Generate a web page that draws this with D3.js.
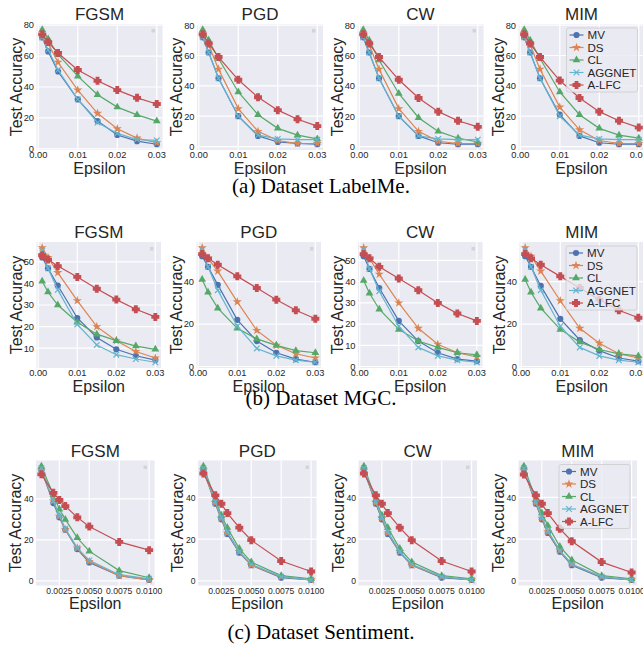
<!DOCTYPE html>
<html>
<head>
<meta charset="utf-8">
<script src="https://cdn.jsdelivr.net/npm/d3@7"></script>
<style>
  body { margin: 0; background: #fff; }
  svg { display: block; }
</style>
</head>
<body>
<svg id="chart" width="643" height="650"></svg>
<script>
// series names, attack names, epsilon values
const methods = ['MV', 'DS', 'CL', 'AGGNET', 'A-LFC'];
const attacks = ['FGSM', 'PGD', 'CW', 'MIM'];
const epsWide = [0.001, 0.0025, 0.005, 0.01, 0.015, 0.02, 0.025, 0.03];
const epsSentiment = [0.001, 0.002, 0.0025, 0.003, 0.004, 0.005, 0.0075, 0.01];

// rows: MV, DS, CL, AGGNET, A-LFC
const labelmeFGSM = [
    [72, 63, 50, 32, 18, 9, 5, 3],
    [73, 68, 56, 38, 23, 13, 7, 4],
    [77, 71, 61, 47, 35, 27, 22, 18],
    [72, 64, 51, 32, 17, 10, 6, 5.5],
    [74, 69, 62, 51, 44, 38, 33, 29]
];
const labelmePGD = [
    [72, 62, 45, 20, 7, 3, 2, 1.5],
    [73, 67, 51, 25, 10, 4, 2, 2],
    [77, 70, 58, 36, 21, 12, 7.5, 5],
    [72, 62, 45, 20, 7.5, 5, 4.5, 4.5],
    [74, 68, 59, 44, 32.5, 24, 18, 13.5]
];
const labelmeCW = [
    [72, 62, 45, 20, 7, 2.5, 1.5, 1.5],
    [73, 67, 51, 25, 10, 3.5, 2, 2],
    [77, 70, 57, 35, 19, 10, 5.5, 3],
    [72, 62, 45, 20, 7, 5, 4.5, 4.5],
    [74, 68, 59, 44, 32, 23, 17, 13]
];
const labelmeMIM = [
    [72, 62, 45, 21, 7, 2.5, 1.5, 1.5],
    [73, 67, 51, 26, 11, 4, 2, 2],
    [77, 70, 58, 36, 21, 12, 7.5, 5.5],
    [72, 62, 45, 20, 7.5, 5, 4.5, 4.5],
    [74, 68, 59, 43.5, 32, 23, 17, 12.5]
];
const mgcFGSM = [
    [52, 47, 39, 24, 15, 9.5, 6.5, 4.5],
    [56.5, 52, 45, 32, 20, 13.5, 8.5, 5.5],
    [41, 36, 30, 22, 16.5, 13.5, 11, 9.5],
    [55, 47, 37, 21, 11.5, 7, 5, 3.5],
    [53, 51, 48, 43, 37.5, 32.5, 28, 24.5]
];
const mgcPGD = [
    [52, 47, 38.5, 22, 12, 6.5, 3.5, 2],
    [56, 51, 45, 30.5, 17, 10, 6, 4],
    [41, 35, 27.5, 18, 13, 10, 7.5, 6.5],
    [55, 47, 36, 19, 8.5, 5, 3, 2],
    [53, 51, 48, 42.5, 37, 31.5, 26.5, 22.5]
];
const mgcCW = [
    [52, 46, 37, 21.5, 12, 6.5, 3.5, 2.5],
    [56, 51, 43.5, 30, 18, 10.5, 6.5, 4.5],
    [40.5, 34.5, 27, 17.5, 12, 9, 6.5, 5.5],
    [55, 46, 35.5, 19, 9, 5, 3, 2],
    [53, 51, 47, 41.5, 36, 30, 25, 21.5]
];
const mgcMIM = [
    [52, 47, 38, 22.5, 12.5, 7.5, 4, 2.5],
    [56, 52, 45, 31, 18, 11, 6, 4],
    [41, 35, 27.5, 17.5, 11.5, 8, 6, 5],
    [55, 47, 36, 19, 9, 5, 3, 2],
    [53, 51, 48, 42.5, 37, 31.5, 26.5, 23]
];
const sentimentFGSM = [
    [54, 38, 31, 25, 15.5, 9, 2.5, 0.5],
    [54, 39, 31.5, 25, 16, 9.5, 2.5, 0.5],
    [56, 42, 35, 30, 21, 14.5, 5, 1.5],
    [55, 39, 32, 25.5, 16, 10, 3, 1],
    [52, 43, 39.5, 36.5, 31, 26.5, 19, 15]
];
const sentimentPGD = [
    [53, 37, 29.5, 22.5, 13.5, 7.5, 1.5, 0.5],
    [53, 37.5, 30, 23, 14, 7.5, 2, 0.5],
    [55, 39, 31.5, 25.5, 15.5, 9, 2.5, 1],
    [54, 38, 30.5, 23.5, 14, 8, 2, 0.5],
    [51.5, 41, 37, 32.5, 25.5, 19.5, 9.5, 4.5]
];
const sentimentCW = [
    [53, 37, 29.5, 22.5, 13.5, 7.5, 1.5, 0.5],
    [53, 37.5, 30, 23, 14, 7.5, 2, 0.5],
    [55, 39, 31.5, 25.5, 15.5, 9, 2.5, 1],
    [54, 38, 30.5, 23.5, 14, 8, 2, 0.5],
    [51.5, 41, 37, 32.5, 25.5, 19.5, 9.5, 4.5]
];
const sentimentMIM = [
    [53, 37, 29.5, 23, 14, 7.5, 1.5, 0.5],
    [53, 37.5, 30, 23.5, 14.5, 8, 2, 0.5],
    [55, 39, 32.5, 26.5, 16.5, 10, 2.5, 1],
    [54, 38, 30.5, 24, 14.5, 8, 2, 0.5],
    [51, 41, 37, 32.5, 25, 19, 9, 4]
];

// tick labels
const xTicksWide = [0, 0.01, 0.02, 0.03];
const xTicksSentiment = [0.0025, 0.005, 0.0075, 0.01];
const yTicksLabelme = [0, 20, 40, 60, 80];
const yTicksMgc = [[10, 20, 30, 40, 50], [0, 20, 40], [0, 10, 20, 30, 40, 50], [0, 20, 40]];
const yTicksSentiment = [0, 20, 40];
const captions = ['(a) Dataset LabelMe.', '(b) Dataset MGC.', '(c) Dataset Sentiment.'];

const colors = ['#4c72b0', '#dd8452', '#55a868', '#64b5cd', '#c44e52'];
const sans = '"Liberation Sans", Arial, sans-serif';
const ink = '#262626';

const rows = [
    { top: 24, bottom: 150, lefts: [36.5, 197, 357.5, 518.5], width: 126,
      eps: epsWide, xTicks: xTicksWide, fmt: d3.format('.2f'), tickSize: 9.3,
      panels: [labelmeFGSM, labelmePGD, labelmeCW, labelmeMIM],
      yTicks: [yTicksLabelme, yTicksLabelme, yTicksLabelme, yTicksLabelme],
      caption: captions[0], capY: 192.5 },
    { top: 242, bottom: 368, lefts: [36.5, 196.5, 358, 519.5], width: 124.5,
      eps: epsWide, xTicks: xTicksWide, fmt: d3.format('.2f'), tickSize: 9.3,
      panels: [mgcFGSM, mgcPGD, mgcCW, mgcMIM],
      yTicks: yTicksMgc,
      caption: captions[1], capY: 405 },
    { top: 460.5, bottom: 585.5, lefts: [36, 198, 358.5, 518.5], width: 118.5,
      eps: epsSentiment, xTicks: xTicksSentiment, fmt: d3.format('.4f'), tickSize: 8.6,
      panels: [sentimentFGSM, sentimentPGD, sentimentCW, sentimentMIM],
      yTicks: [yTicksSentiment, yTicksSentiment, yTicksSentiment, yTicksSentiment],
      caption: captions[2], capY: 638.5 }
];

const svg = d3.select('#chart');

// matplotlib-style 5% margins
const padded = (lo, hi) => {
    const m = (hi - lo) * 0.05;
    return [lo - m, hi + m];
};

// filled plus, like matplotlib 'P'
const plusPath = (r) => {
    const a = r * 0.48;
    return `M${-a},${-r}H${a}V${-a}H${r}V${a}H${a}V${r}H${-a}V${a}H${-r}V${-a}H${-a}Z`;
};

const drawMarker = (g, i, x, y, c) => {
    if (i === 3) {
        const s = 2.8;
        g.append('path')
            .attr('d', `M${x - s},${y - s}L${x + s},${y + s}M${x - s},${y + s}L${x + s},${y - s}`)
            .attr('stroke', c).attr('stroke-width', 1.2).attr('fill', 'none');
        return;
    }
    if (i === 4) {
        g.append('path')
            .attr('d', plusPath(4))
            .attr('transform', `translate(${x},${y})`)
            .attr('fill', c);
        return;
    }
    const types = [d3.symbolCircle, d3.symbolStar, d3.symbolTriangle];
    const sizes = [30, 26, 26];
    g.append('path')
        .attr('d', d3.symbol(types[i], sizes[i])())
        .attr('transform', `translate(${x},${y})`)
        .attr('fill', c);
};

rows.forEach((row) => {
    row.panels.forEach((data, p) => {
        const left = row.lefts[p];
        const right = left + row.width;
        const x = d3.scaleLinear()
            .domain(padded(d3.min(row.eps), d3.max(row.eps)))
            .range([left, right]);
        const y = d3.scaleLinear()
            .domain(padded(d3.min(data.flat()), d3.max(data.flat())))
            .range([row.bottom, row.top]);

        const g = svg.append('g');
        g.append('rect')
            .attr('x', left).attr('y', row.top)
            .attr('width', row.width).attr('height', row.bottom - row.top)
            .attr('fill', '#eaeaf2');

        // grid
        g.selectAll('.gx').data(row.xTicks).enter().append('line')
            .attr('x1', (d) => x(d)).attr('x2', (d) => x(d))
            .attr('y1', row.top).attr('y2', row.bottom)
            .attr('stroke', '#fff').attr('stroke-width', 1.2);
        g.selectAll('.gy').data(row.yTicks[p]).enter().append('line')
            .attr('x1', left).attr('x2', right)
            .attr('y1', (d) => y(d)).attr('y2', (d) => y(d))
            .attr('stroke', '#fff').attr('stroke-width', 1.2);

        // tick labels
        g.selectAll('.tx').data(row.xTicks).enter().append('text')
            .attr('x', (d) => x(d)).attr('y', row.bottom + 8)
            .attr('text-anchor', 'middle')
            .attr('font-family', sans).attr('font-size', row.tickSize).attr('fill', ink)
            .text((d) => row.fmt(d));
        g.selectAll('.ty').data(row.yTicks[p]).enter().append('text')
            .attr('x', left - 2.5).attr('y', (d) => y(d) + 3.4)
            .attr('text-anchor', 'end')
            .attr('font-family', sans).attr('font-size', row.tickSize).attr('fill', ink)
            .text((d) => d);

        // lines and markers
        const line = d3.line().x((d, k) => x(row.eps[k])).y((d) => y(d));
        data.forEach((series, i) => {
            g.append('path')
                .attr('d', line(series))
                .attr('fill', 'none')
                .attr('stroke', colors[i])
                .attr('stroke-width', 1.2);
            series.forEach((v, k) => drawMarker(g, i, x(row.eps[k]), y(v), colors[i]));
        });

        // empty legend remnant / legend
        if (p < 3) {
            g.append('rect')
                .attr('x', right - 11).attr('y', row.top + 5)
                .attr('width', 3.5).attr('height', 3.5)
                .attr('fill', '#d4d4d8');
        } else {
            const lw = 71;
            const lx = right - lw - 7;
            const ly = row.top + 4;
            const lg = g.append('g');
            lg.append('rect')
                .attr('x', lx).attr('y', ly)
                .attr('width', lw).attr('height', 64)
                .attr('rx', 2)
                .attr('fill', 'rgba(234,234,242,0.8)')
                .attr('stroke', '#cccccc').attr('stroke-width', 0.8);
            methods.forEach((m, i) => {
                const yy = ly + 7 + i * 12.5;
                lg.append('line')
                    .attr('x1', lx + 3).attr('x2', lx + 17)
                    .attr('y1', yy).attr('y2', yy)
                    .attr('stroke', colors[i]).attr('stroke-width', 1.2);
                drawMarker(lg, i, lx + 10, yy, colors[i]);
                lg.append('text')
                    .attr('x', lx + 21).attr('y', yy + 4)
                    .attr('font-family', sans).attr('font-size', 11.6).attr('fill', ink)
                    .text(m);
            });
        }

        // titles and axis labels
        g.append('text')
            .attr('x', (left + right) / 2).attr('y', row.top - 4)
            .attr('text-anchor', 'middle')
            .attr('font-family', sans).attr('font-size', 17).attr('fill', ink)
            .text(attacks[p]);
        g.append('text')
            .attr('x', (left + right) / 2).attr('y', row.bottom + 23.5)
            .attr('text-anchor', 'middle')
            .attr('font-family', sans).attr('font-size', 16).attr('fill', ink)
            .text('Epsilon');
        g.append('text')
            .attr('transform', `translate(${left - 15},${(row.top + row.bottom) / 2}) rotate(-90)`)
            .attr('text-anchor', 'middle')
            .attr('font-family', sans).attr('font-size', 16).attr('fill', ink)
            .text('Test Accuracy');
    });

    svg.append('text')
        .attr('x', 321).attr('y', row.capY)
        .attr('text-anchor', 'middle')
        .attr('font-family', '"Liberation Serif", "Times New Roman", serif')
        .attr('font-size', 21)
        .attr('fill', '#000')
        .text(row.caption);
});
</script>
</body>
</html>
